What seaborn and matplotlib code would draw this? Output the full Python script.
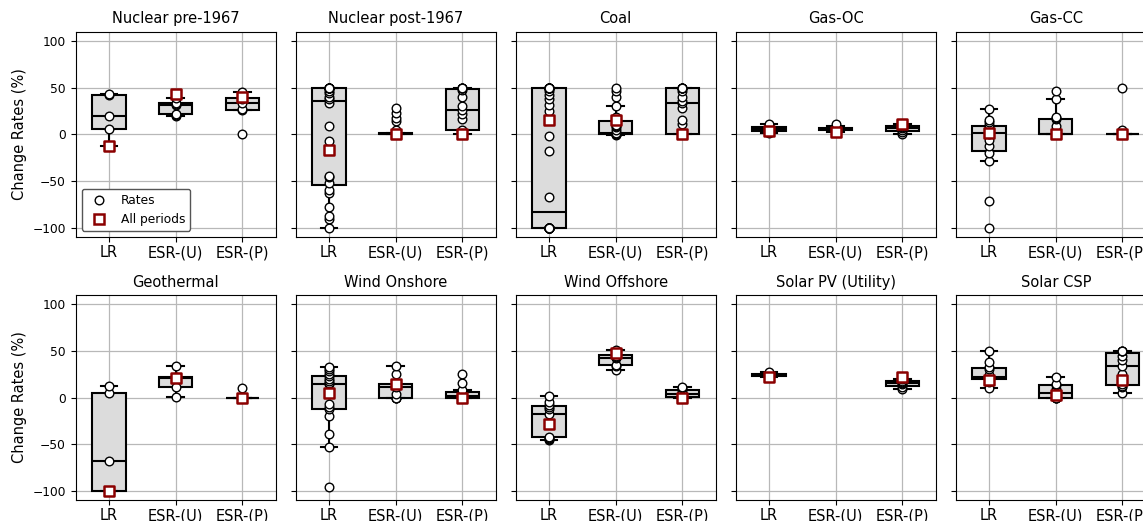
import matplotlib
matplotlib.use("Agg")
import matplotlib.pyplot as plt
import numpy as np
import pandas as pd
import seaborn as sns
from matplotlib.lines import Line2D

plt.rcParams["font.family"] = ["DejaVu Sans"]
plt.rcParams["font.size"] = 10.5

methods = ["LR", "ESR-(U)", "ESR-(P)"]
technologies = ["Nuclear pre-1967", "Nuclear post-1967", "Coal", "Gas-OC", "Gas-CC",
                "Geothermal", "Wind Onshore", "Wind Offshore", "Solar PV (Utility)", "Solar CSP"]

# Change rates (%) per technology: (LR, ESR-(U), ESR-(P))
nuclear_pre_rates = (
    [-12, 6, 20, 42, 43],
    [20, 21, 22, 32, 33, 34, 39],
    [0, 26, 27, 34, 38, 41, 45],
)
nuclear_post_rates = (
    [-100, -91, -87, -78, -63, -60, -52, -46, -45, -7, 9, 34, 38, 40, 44, 46,
     50, 50, 50, 50, 50, 50, 50, 50],
    [0] * 15 + [5, 14, 18, 23, 28],
    [0, 0, 0, 4, 5, 17, 22, 26, 30, 40, 48, 50, 50, 50, 50],
)
coal_rates = (
    [-100] * 18 + [-67, -18, -2, 25, 31, 38, 42, 46] + [50] * 10,
    [-1, 0, 0, 0, 0, 0, 0, 0, 1, 2, 5, 8, 9, 10, 19, 30, 40, 46, 50],
    [0, 0, 0, 0, 0, 11, 15, 28, 34, 36, 40, 46, 50, 50, 50, 50, 50],
)
gas_oc_rates = (
    [1, 2.5, 4, 5.5, 6, 8, 9, 11],
    [3, 4, 5, 5.5, 6, 6.5, 9, 11],
    [0, 3, 5, 7, 8, 9.5, 11],
)
gas_cc_rates = (
    [-100, -71, -28, -20, -12, -6, 0, 2, 4, 8, 10, 13, 15, 27],
    [0] * 9 + [5, 9, 16, 18, 19, 38, 46],
    [0] * 10 + [5, 50],
)
geothermal_rates = (
    [-100, -100, -68, 5, 12],
    [1, 11, 21, 22, 34],
    [0, 0, 0, 0, 0, 10],
)
wind_onshore_rates = (
    [-96, -53, -39, -20, -12, -10, -7, 4, 15, 16, 18, 20, 23, 25, 28, 31, 33],
    [0, 0, 0, 4, 11, 14, 15, 25, 34],
    [0, 0, 0, 0, 1, 2, 3, 4, 8, 16, 25],
)
wind_offshore_rates = (
    [-46, -44, -43, -42, -28, -18, -12, -10, -8, -5, 2],
    [29, 34, 35, 42, 43, 45, 48, 51],
    [0, 0, 1, 3, 5, 7, 10, 11],
)
solar_pv_rates = (
    [22, 23, 23.5, 24, 25, 27],
    [],
    [9, 11, 14, 16, 17, 18, 20],
)
solar_csp_rates = (
    [10, 17, 19, 20, 21, 22, 24, 31, 33, 38, 50],
    [0, 0, 0, 3, 5, 9, 13, 14, 22],
    [5, 11, 12, 14, 25, 34, 40, 45, 50, 50, 50],
)

# Rate fitted over all periods
all_periods_lr = [-12, -17, 15, 4, 2, -100, 5, -28, 21.5, 19]
all_periods_esr_u = [43, 0, 15, 2.5, 0, 20.4, 14, 48, None, 2.5]
all_periods_esr_p = [40, 0, 0, 10.7, 0, 0, 0, 0, 21.5, 19]

rates = [nuclear_pre_rates, nuclear_post_rates, coal_rates, gas_oc_rates, gas_cc_rates,
         geothermal_rates, wind_onshore_rates, wind_offshore_rates, solar_pv_rates,
         solar_csp_rates]

fig = plt.figure(figsize=(11.43, 5.21), dpi=100)

left0, width, step = 0.0662, 0.175, 0.1925
bottoms, height = [0.545, 0.040], 0.394

for i, tech in enumerate(technologies):
    r, c = divmod(i, 5)
    ax = fig.add_axes([left0 + c * step, bottoms[r], width, height])

    rows = [(m, v) for m, vals in zip(methods, rates[i]) for v in vals]
    df = pd.DataFrame(rows, columns=["method", "value"])

    sns.boxplot(data=df, x="method", y="value", order=methods, width=0.5,
                color="#dcdcdc", linecolor="black", linewidth=1.5,
                showfliers=False, ax=ax)
    sns.stripplot(data=df, x="method", y="value", order=methods, jitter=False,
                  color="white", edgecolor="black", linewidth=1, size=6.2,
                  ax=ax, zorder=3)

    ap_vals = [all_periods_lr[i], all_periods_esr_u[i], all_periods_esr_p[i]]
    ap = pd.DataFrame({"method": methods, "value": ap_vals}).dropna()
    sns.stripplot(data=ap, x="method", y="value", order=methods, jitter=False,
                  marker="s", color="white", edgecolor="#8b0000", linewidth=1.8,
                  size=7.8, ax=ax, zorder=4)

    ax.set_axisbelow(True)
    ax.grid(True, axis="both", color="#b8b8b8", linewidth=0.9)
    ax.set_xlim(-0.5, 2.5)
    ax.set_ylim(-110, 110)
    ax.set_yticks([-100, -50, 0, 50, 100])
    ax.set_title(tech, fontsize=10.5)
    ax.set_xlabel("")
    if c == 0:
        ax.set_ylabel("Change Rates (%)", fontsize=10.5)
    else:
        ax.set_ylabel("")
        ax.set_yticklabels([])
    ax.tick_params(axis="x", labelsize=10.5, pad=2.5)
    ax.tick_params(axis="y", labelsize=8.8)

    if i == 0:
        handles = [
            Line2D([], [], linestyle="none", marker="o", markersize=6.2,
                   markerfacecolor="white", markeredgecolor="black", markeredgewidth=1),
            Line2D([], [], linestyle="none", marker="s", markersize=7.8,
                   markerfacecolor="white", markeredgecolor="#8b0000", markeredgewidth=1.8),
        ]
        ax.legend(handles, ["Rates", "All periods"], loc="lower left", fontsize=8.8,
                  edgecolor="#555555", framealpha=1)

fig.savefig("out.png", dpi=100)
